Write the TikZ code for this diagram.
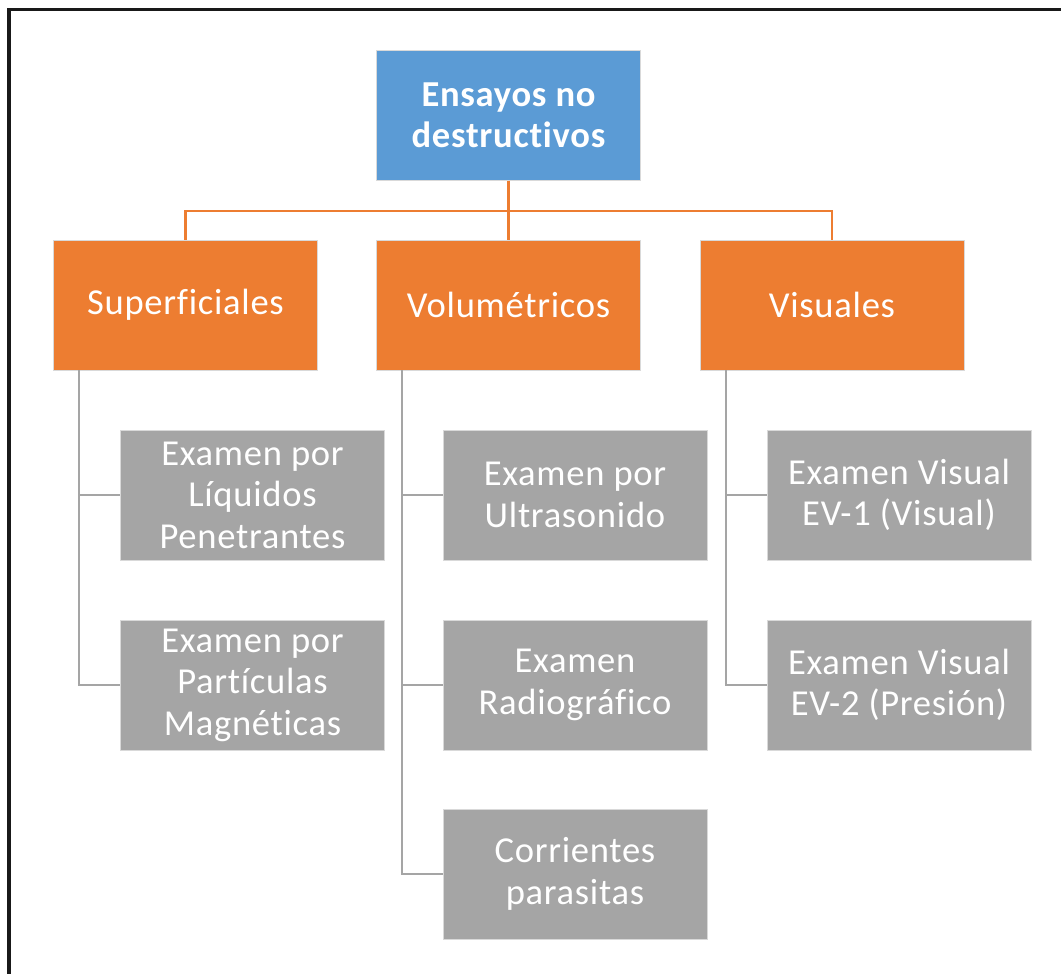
\documentclass[tikz,border=0pt]{standalone}
\usepackage{fontspec}
\setmainfont[Ligatures={NoCommon}, LetterSpace=2.0]{Carlito}
\usetikzlibrary{positioning}

\definecolor{rootblue}{HTML}{5B9BD5}
\definecolor{catorange}{HTML}{ED7D31}
\definecolor{leafgray}{HTML}{A5A5A5}

\tikzset{
	box/.style={rectangle, draw=white!85!black, line width=0.4pt, minimum width=6.6cm, minimum height=3.25cm, inner sep=0pt, align=center, text=white, font=\fontsize{26}{29.5}\selectfont},
	rootbox/.style={box, fill=rootblue, font=\fontsize{26}{29.5}\selectfont\bfseries},
	catbox/.style={box, fill=catorange},
	leafbox/.style={box, fill=leafgray},
	orangeline/.style={catorange, line width=1.6pt},
	grayline/.style={leafgray, line width=1.6pt},
}

\begin{document}
\begin{tikzpicture}[x=0.025cm, y=-0.025cm]

	\useasboundingbox (0,0) rectangle (1061,974);
	\draw[line width=2.2pt, black!90] (9,974) -- (9,9.5) -- (1061,9.5);

	% top
	\node[rootbox] (root) at (508.5,115.5) {Ensayos no\\destructivos};

	% categories
	\node[catbox] (sup) at (185.5,305) {Superficiales};
	\node[catbox] (vol) at (508.5,305) {Volumétricos};
	\node[catbox] (vis) at (832,305) {Visuales};

	% leaves
	\node[leafbox] (liq) at (252.5,495) {Examen por\\Líquidos\\Penetrantes};
	\node[leafbox] (mag) at (252.5,685) {Examen por\\Partículas\\Magnéticas};
	\node[leafbox] (ult) at (575,495) {Examen por\\Ultrasonido};
	\node[leafbox] (rad) at (575,685) {Examen\\Radiográfico};
	\node[leafbox] (cor) at (575,874) {Corrientes\\parasitas};
	\node[leafbox] (ev1) at (899,495) {Examen Visual\\EV-1 (Visual)};
	\node[leafbox] (ev2) at (899,685) {Examen Visual\\EV-2 (Presión)};

	\draw[orangeline] (root.south) -- ++(0,30) -| (sup.north);
	\draw[orangeline] (root.south) -- ++(0,30) -| (vis.north);
	\draw[orangeline] (root.south) -- (vol.north);

	\draw[grayline] ([xshift=0.65cm]sup.south west) |- (liq.west);
	\draw[grayline] ([xshift=0.65cm]sup.south west) |- (mag.west);
	\draw[grayline] ([xshift=0.65cm]vol.south west) |- (ult.west);
	\draw[grayline] ([xshift=0.65cm]vol.south west) |- (rad.west);
	\draw[grayline] ([xshift=0.65cm]vol.south west) |- (cor.west);
	\draw[grayline] ([xshift=0.65cm]vis.south west) |- (ev1.west);
	\draw[grayline] ([xshift=0.65cm]vis.south west) |- (ev2.west);

\end{tikzpicture}
\end{document}
